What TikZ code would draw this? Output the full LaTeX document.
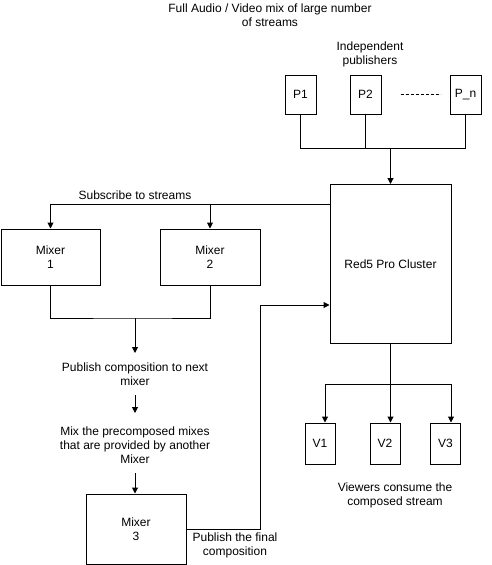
\documentclass[tikz,border=0pt]{standalone}
\usepackage{fontspec}
\setmainfont{Liberation Sans}
\usetikzlibrary{arrows.meta}
\begin{document}
\begin{tikzpicture}[x=1pt,y=-1pt,
  every node/.style={font=\fontsize{12}{14}\selectfont, inner sep=0pt, align=center},
  box/.style={draw, line width=1pt, minimum width=#1},
  lbl/.style={},
  con/.style={line width=1pt},
  arr/.style={line width=1pt, -{Triangle[length=6pt,width=6pt]}}]
\useasboundingbox (0,0) rectangle (491,565);
% title
\node[lbl] (title) at (270,15) {Full Audio / Video mix of large number\\of streams};
\node[lbl] (indep) at (370,54.5) {Independent\\publishers};
% publishers
\node[box=31, minimum height=39] (p1) at (300.5,94.5) {P1};
\node[box=31, minimum height=39] (p2) at (365.5,94.5) {P2};
\node[box=31, minimum height=39] (pn) at (465.5,94.5) {P\_n};
\draw[con, dashed, dash pattern=on 3pt off 2pt] (p2.east) ++(19,0) coordinate (d1) -- ++(40,0) coordinate (d2);
% cluster
\node[box=121, minimum height=159] (cl) at (390.5,264) {Red5 Pro Cluster};
\coordinate (pj) at (390.5,148);
\draw[con] (p1.south) |- (pj);
\draw[con] (pn.south) |- (pj);
\draw[con] (p2.south) -- (p2.south |- pj);
\draw[arr] (pj) -- (cl.north);
% mixers
\node[box=99, minimum height=56] (m1) at (50.5,257) {Mixer\\1};
\node[box=100, minimum height=56] (m2) at (210,257) {Mixer\\2};
\coordinate (sj) at (330,204);
\node[lbl, anchor=base] (sub) at (135,199) {Subscribe to streams};
\draw[arr] (sj) -| (m1.north);
\draw[arr] (m2.north |- sj) -- (m2.north);
\coordinate (mj) at (135,318);
\draw[con] (m1.south) |- (mj) -| (m2.south);
\coordinate (mje) at (135,353);
\draw[arr] (mj) -- (mje);
\node[lbl] (pub) at (135,374.5) {Publish composition to next\\mixer};
\coordinate (a1s) at (135,395);
\coordinate (a1e) at (135,413);
\draw[arr] (a1s) -- (a1e);
\node[lbl] (mix) at (135,445) {Mix the precomposed mixes\\that are provided by another\\Mixer};
\node[box=100, minimum height=70] (m3) at (136,529) {Mixer\\3};
\coordinate (a2s) at (135,473);
\draw[arr] (a2s) -- (m3.north -| a2s);
\coordinate (c3) at (260,305);
\draw[arr] (m3.east) -| (c3) -- (cl.west |- c3);
\node[lbl] (fin) at (235,545) {Publish the final\\composition};
% viewers
\node[box=30, minimum height=41] (v1) at (320,443.5) {V1};
\node[box=30, minimum height=41] (v2) at (385,443.5) {V2};
\node[box=30, minimum height=41] (v3) at (445.5,443.5) {V3};
\coordinate (vj) at (390.5,384);
\draw[arr] (cl.south) -- (cl.south |- v2.north);
\draw[arr] (vj) -| ([xshift=5pt]v1.north);
\draw[arr] (vj) -| ([xshift=5.5pt]v3.north);
\node[lbl] (view) at (395,495) {Viewers consume the\\composed stream};
\end{tikzpicture}
\end{document}
